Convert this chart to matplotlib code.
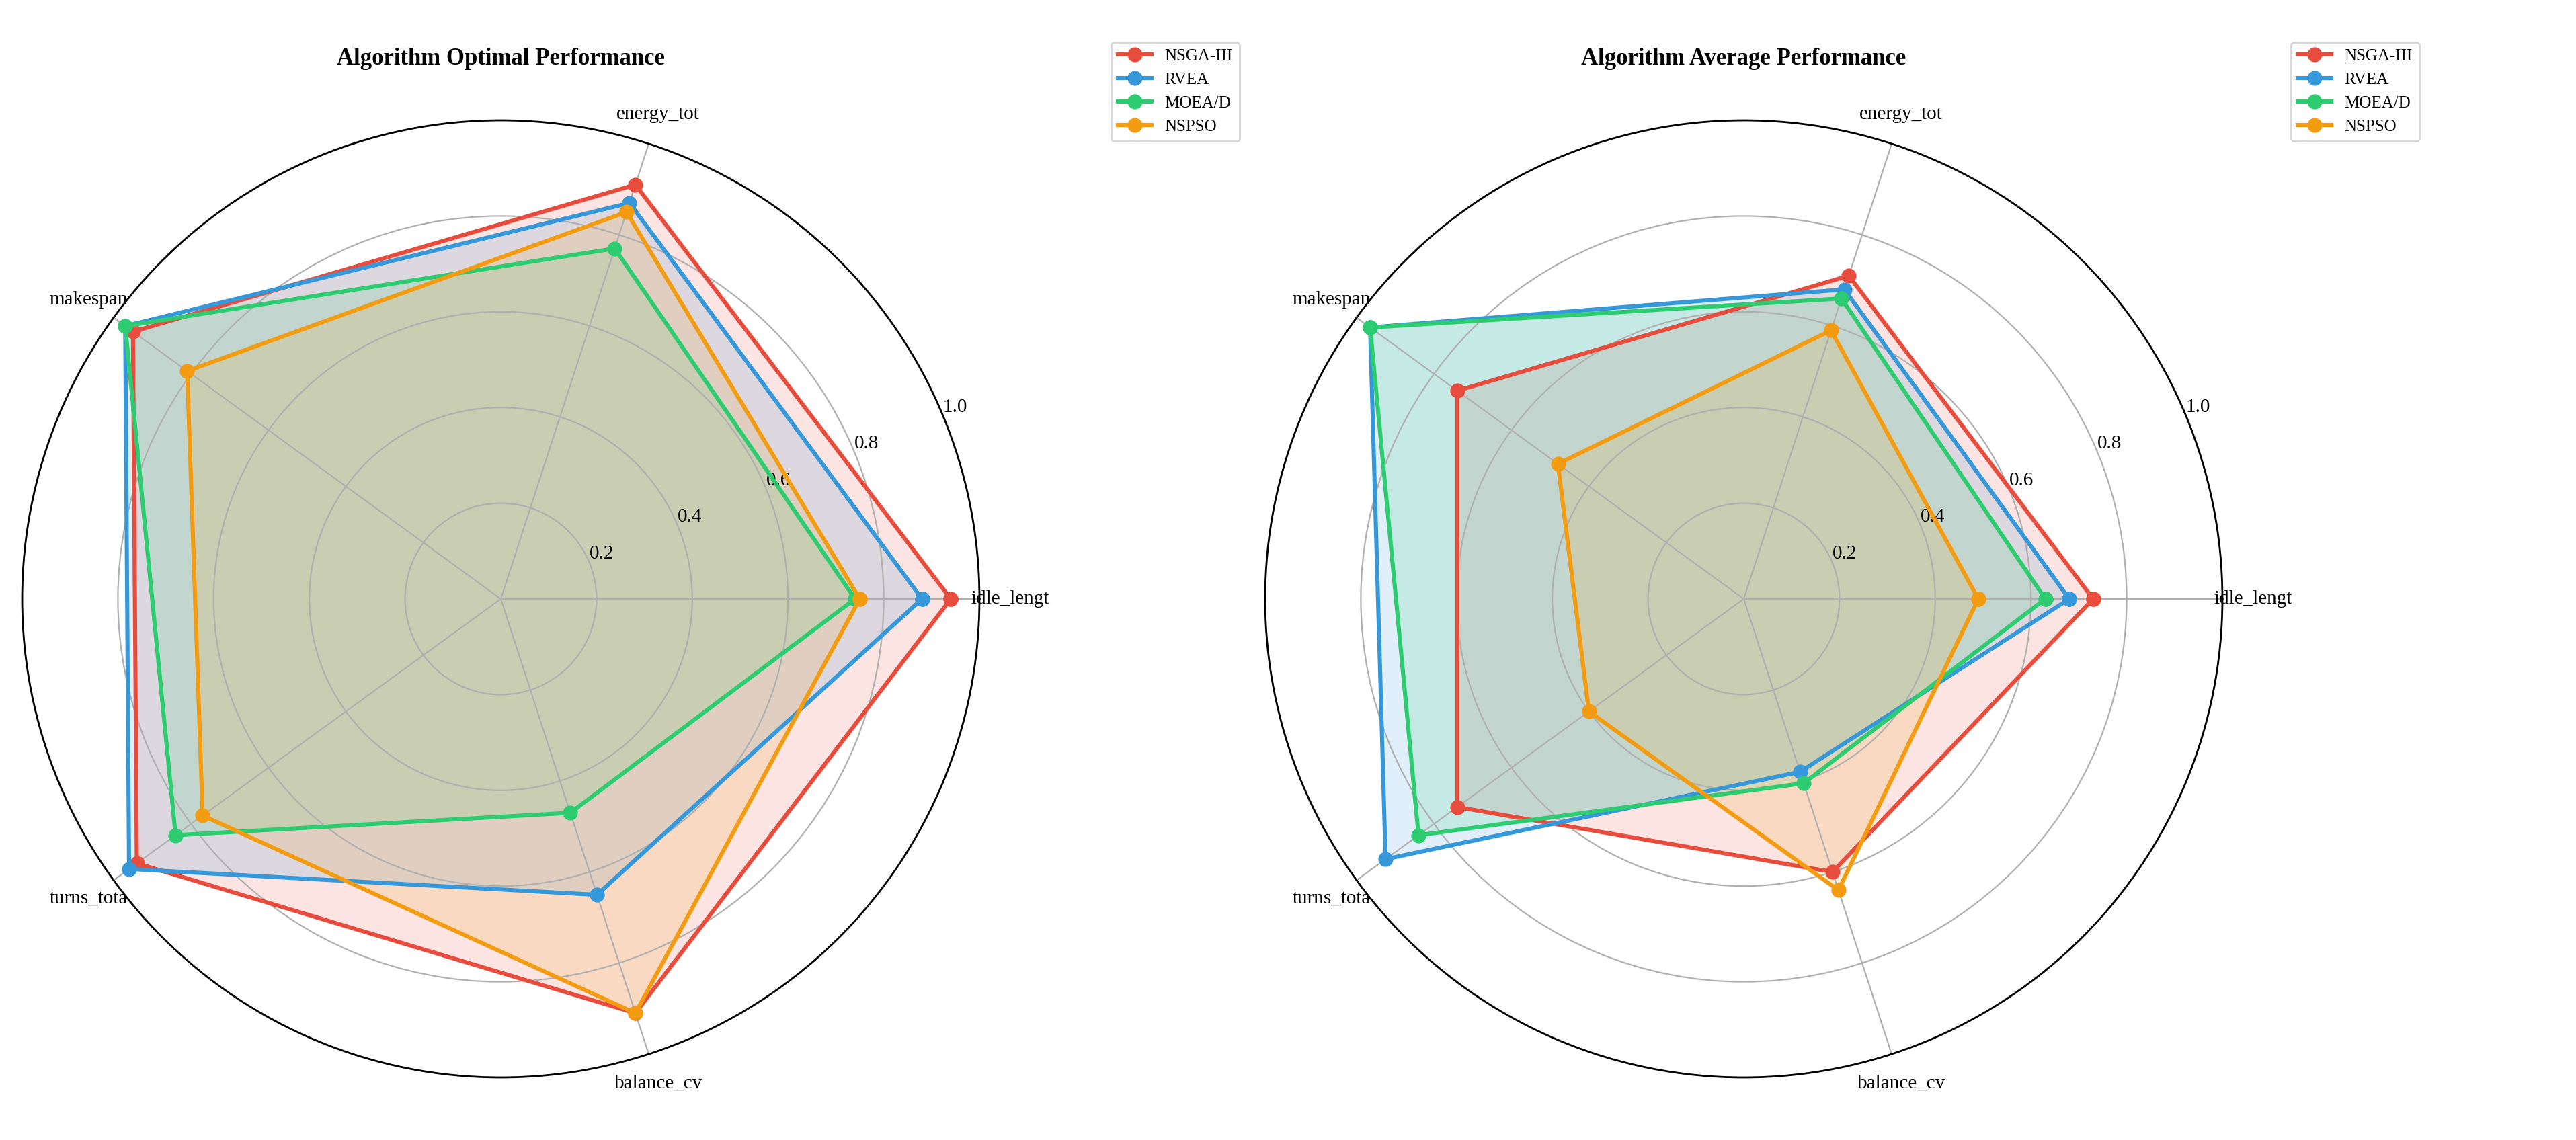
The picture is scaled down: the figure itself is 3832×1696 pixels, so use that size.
import numpy as np
import matplotlib
matplotlib.use("Agg")
import matplotlib.pyplot as plt

plt.rcParams['font.family'] = ['Liberation Serif', 'DejaVu Serif']

categories = ['idle_lengt', 'energy_tot', 'makespan', 'turns_tota', 'balance_cv']
algorithms = ['NSGA-III', 'RVEA', 'MOEA/D', 'NSPSO']
colors = ['#e74c3c', '#3498db', '#2ecc71', '#f39c12']

optimal = {
    'NSGA-III': [0.94, 0.91, 0.95, 0.94, 0.91],
    'RVEA':     [0.88, 0.87, 0.97, 0.96, 0.65],
    'MOEA/D':   [0.74, 0.77, 0.97, 0.84, 0.47],
    'NSPSO':    [0.75, 0.85, 0.81, 0.77, 0.91],
}
average = {
    'NSGA-III': [0.73, 0.71, 0.74, 0.74, 0.60],
    'RVEA':     [0.68, 0.68, 0.965, 0.925, 0.38],
    'MOEA/D':   [0.63, 0.66, 0.965, 0.84, 0.405],
    'NSPSO':    [0.49, 0.59, 0.48, 0.40, 0.64],
}
titles = ['Algorithm Optimal Performance', 'Algorithm Average Performance']
rticks = [0.2, 0.4, 0.6, 0.8, 1.0]

W, H = 3832, 1696
fig = plt.figure(figsize=(W/200, H/200), dpi=200)
angles = np.linspace(0, 2*np.pi, len(categories), endpoint=False)
closed = np.concatenate([angles, angles[:1]])

centers = [(745, 891), (2594, 891)]
R = 712
legend_pos = [(1640, 50), (3395, 50)]
for i, data in enumerate([optimal, average]):
    cx, cy = centers[i]
    ax = fig.add_axes([(cx-R)/W, (H-cy-R)/H, 2*R/W, 2*R/H], polar=True)
    for alg, c in zip(algorithms, colors):
        v = np.array(data[alg] + data[alg][:1])
        ax.plot(closed, v, color=c, lw=2.2, marker='o', ms=7, label=alg, zorder=3)
        ax.fill(closed, v, color=c, alpha=0.15)
    ax.set_ylim(0, 1)
    ax.set_yticks(rticks)
    ax.set_yticklabels([f'{t:.1f}' for t in rticks], fontsize=10.5)
    ax.set_rlabel_position(22.5)
    ax.set_xticks(angles)
    ax.set_xticklabels(categories, fontsize=10.5)
    ax.tick_params(axis='x', pad=6)
    ax.grid(color='#b0b0b0', lw=0.8)
    ax.spines['polar'].set_linewidth(1.0)
    ax.set_title(titles[i], fontsize=12.5, fontweight='bold', pad=30)
    lx, ly = legend_pos[i]
    fig.legend(*ax.get_legend_handles_labels(), loc='upper left',
               bbox_to_anchor=(lx/W, 1-ly/H), fontsize=9, frameon=True,
               edgecolor='#cccccc')

fig.savefig('out.png', dpi=200)
